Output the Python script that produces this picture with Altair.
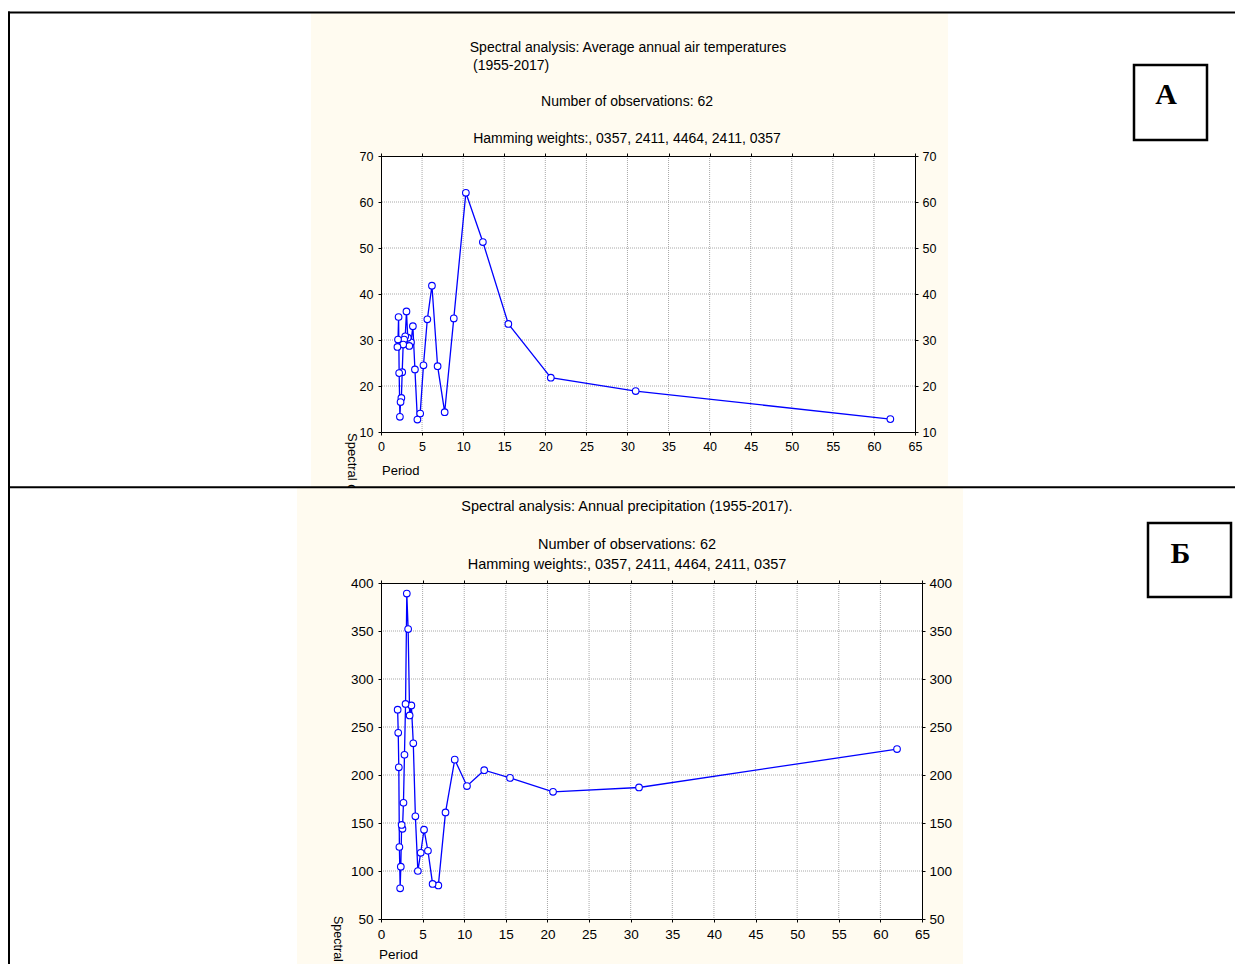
import altair as alt
import pandas as pd

# ---- data ----
periods = [62.0, 31.0, 20.67, 15.5, 12.4, 10.33, 8.86, 7.75, 6.89, 6.2, 5.64, 5.17,
           4.77, 4.43, 4.13, 3.88, 3.65, 3.44, 3.26, 3.1, 2.95, 2.82, 2.7, 2.58,
           2.48, 2.38, 2.3, 2.21, 2.14, 2.07, 2.0]
temp_density = [12.8, 18.9, 21.8, 33.5, 51.3, 62.0, 34.7, 14.3, 24.3, 41.8, 34.5, 24.5,
                14.0, 12.7, 23.6, 33.0, 29.5, 28.7, 30.5, 36.2, 30.8, 30.1, 29.0, 23.0,
                17.4, 16.5, 13.3, 22.8, 35.0, 30.1, 28.5]
precip_density = [227, 187, 182.5, 197, 205, 188.5, 216, 161, 85, 86.5, 121, 143,
                  119, 100, 157, 233, 272.5, 262, 352, 389, 274, 221, 171, 144,
                  148, 104.5, 82, 125, 208, 244, 268]
x_ticks = [0, 5, 10, 15, 20, 25, 30, 35, 40, 45, 50, 55, 60, 65]
temp_ticks = [10, 20, 30, 40, 50, 60, 70]
precip_ticks = [50, 100, 150, 200, 250, 300, 350, 400]

top_title = "Spectral analysis: Average annual air temperatures"
top_title2 = "(1955-2017)"
bottom_title = "Spectral analysis: Annual precipitation (1955-2017)."
obs_text = "Number of observations: 62"
hamming_text = "Hamming weights:, 0357, 2411, 4464, 2411, 0357"
x_title = "Period"
y_title = "Spectral density"
y_title_short = "Spectral"

FONT = "Liberation Sans"
SERIF = "Liberation Serif"
BLUE = "#0000FF"
CREAM = "#FFFBF0"
GRID = "#A8A8A8"

one = pd.DataFrame({"k": [0]})


def vrect(x0, x1, y0, y1, **kw):
    return alt.Chart(one).mark_rect(**kw).encode(
        x=alt.value(x0), x2=alt.value(x1), y=alt.value(y0), y2=alt.value(y1))


def vtext(s, x, y, align="center", size=13, font=FONT, **kw):
    return alt.Chart(one).mark_text(align=align, baseline="middle", font=font,
                                    fontSize=size, color="black", **kw).encode(
        x=alt.value(x), y=alt.value(y), text=alt.value(s))


def hline(x0, x1, y, w=2):
    return alt.Chart(one).mark_rule(color="black", strokeWidth=w).encode(
        x=alt.value(x0), x2=alt.value(x1), y=alt.value(y))


def vline(x, y0, y1, w=2):
    return alt.Chart(one).mark_rule(color="black", strokeWidth=w).encode(
        x=alt.value(x), y=alt.value(y0), y2=alt.value(y1))


def frame(W, H, x0, x1, y0, y1):
    return [
        vrect(x0, x1, y0, 0, fill=CREAM),
        vrect(x0, x1, H, y1, fill=CREAM),
        vrect(x0, 0, 0, H, fill=CREAM),
        vrect(W, x1, 0, H, fill=CREAM),
    ]


def data_layers(values, ydom, yticks, label_size):
    df = pd.DataFrame({"period": periods, "density": values})
    xs = alt.Scale(domain=[0, 65], nice=False, zero=False)
    ys = alt.Scale(domain=ydom, nice=False, zero=False)
    common = dict(labelFont=FONT, labelFontSize=label_size, labelColor="black",
                  domainColor="black", domainWidth=1, tickColor="black", tickSize=3,
                  labelFlush=False, labelOverlap=False, title=None, grid=False, zindex=1)
    xaxis = alt.Axis(values=x_ticks, orient="bottom", labelPadding=5, **common)
    yaxis = alt.Axis(values=yticks, orient="left", labelPadding=5, **common)
    gx = alt.Chart(pd.DataFrame({"period": x_ticks[1:-1]})).mark_rule(
        color=GRID, strokeDash=[1, 1], strokeWidth=1).encode(
        x=alt.X("period:Q", scale=xs, axis=xaxis))
    gy = alt.Chart(pd.DataFrame({"density": yticks[1:-1]})).mark_rule(
        color=GRID, strokeDash=[1, 1], strokeWidth=1).encode(
        y=alt.Y("density:Q", scale=ys, axis=yaxis))
    line = alt.Chart(df).mark_line(color=BLUE, strokeWidth=1.3).encode(
        x=alt.X("period:Q", scale=xs, axis=xaxis),
        y=alt.Y("density:Q", scale=ys, axis=yaxis))
    inner = alt.layer(gx, gy, line)
    pts = alt.Chart(df).mark_circle(size=44, fill="white", fillOpacity=1, stroke=BLUE,
                                    strokeWidth=1.1, opacity=1).encode(
        x=alt.X("period:Q", scale=xs,
                axis=alt.Axis(values=x_ticks, orient="top", labels=False, **common)),
        y=alt.Y("density:Q", scale=ys,
                axis=alt.Axis(values=yticks, orient="right", labelPadding=4, **common)))
    return [inner, pts]


# ---- top panel ----
W1, H1 = 534, 276
top_layers = data_layers(temp_density, [10, 70], temp_ticks, 12.5)
top_decor = frame(W1, H1, -70, 567, -143, 331) + [
    vtext(top_title, 247, -108, size=14),
    vtext(top_title2, 92, -90, align="left", size=14),
    vtext(obs_text, 246, -54, size=14),
    vtext(hamming_text, 246, -17, size=14),
    vtext(x_title, 1, 315, align="left"),
    vtext(y_title, -29, 277, align="left", angle=90),
    vrect(753, 826, -91, -16, fill="white", stroke="black", strokeWidth=2.5),
    vtext("А", 785, -61, size=30, font=SERIF, fontWeight="bold"),
]
top = alt.layer(*top_layers, *top_decor).resolve_axis(
    x="independent", y="independent").properties(width=W1, height=H1)

# ---- bottom panel ----
W2, H2 = 541, 336
bot_layers = data_layers(precip_density, [50, 400], precip_ticks, 13.5)
bot_decor = frame(W2, H2, -84, 582, -95, 389) + [
    vtext(bottom_title, 246, -76, size=14.5),
    vtext(obs_text, 246, -38, size=14.5),
    vtext(hamming_text, 246, -18, size=14.5),
    vtext(x_title, -2, 372, align="left", size=13.5),
    vtext(y_title_short, -43, 333, align="left", angle=90, size=12.5),
    vrect(767, 850, -60, 14, fill="white", stroke="black", strokeWidth=2.5),
    vtext("Б", 799.5, -29.5, size=30, font=SERIF, fontWeight="bold"),
    hline(-373, 862, -570.5),
    vline(-372, -571.5, 389),
    hline(-373, 862, -95.7),
]
bottom = alt.layer(*bot_layers, *bot_decor).resolve_axis(
    x="independent", y="independent").properties(width=W2, height=H2)

# autosize "none" on a concat leaves the layout size at 0, so padding sets the canvas
chart = alt.vconcat(top, bottom, spacing=151, bounds="flush").properties(
    autosize=alt.AutoSizeParams(type="none"),
    padding={"left": 373, "top": 148, "right": 854, "bottom": 808},
).configure_view(stroke="black", strokeWidth=1, fill="white").configure(background="white")

chart.save("out.html", embed_options={"renderer": "svg", "actions": False})
